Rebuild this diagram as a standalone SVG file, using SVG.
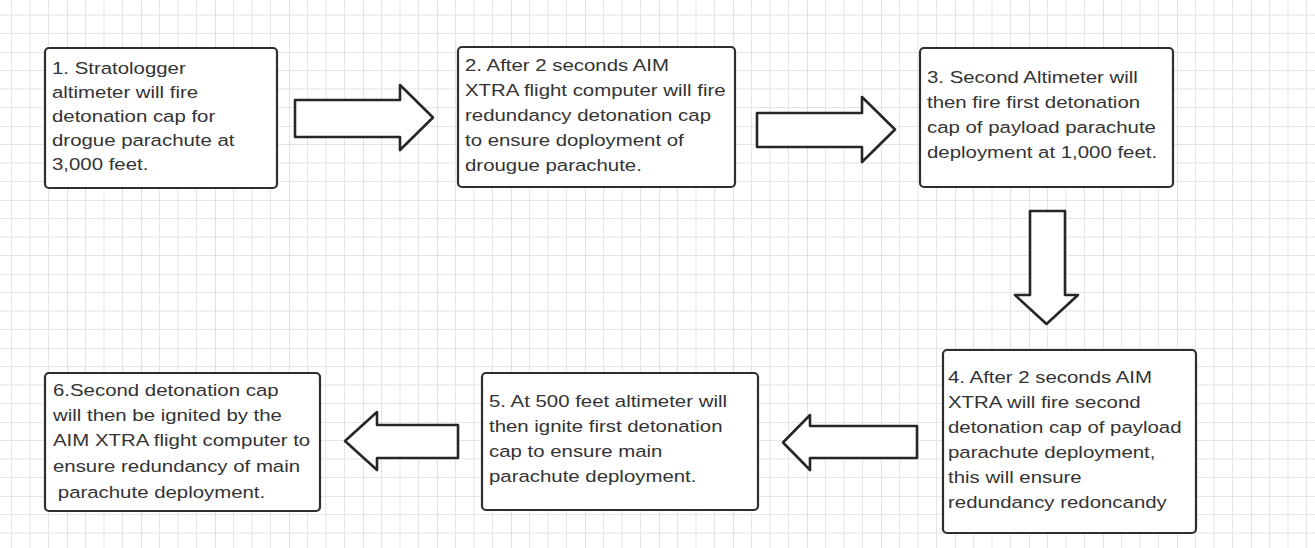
<svg xmlns="http://www.w3.org/2000/svg" width="1315" height="548" viewBox="0 0 1315 548">
  <defs>
    <pattern id="grid" patternUnits="userSpaceOnUse" x="67" y="52" width="74" height="74">
      <rect width="74" height="74" fill="#ffffff"/>
      <path d="M18.5 0V74M37 0V74M55.5 0V74M0 18.5H74M0 37H74M0 55.5H74" stroke="#e4e4e4" stroke-width="1" fill="none"/>
      <path d="M0 0V74M0 0H74" stroke="#cfcfcf" stroke-width="1.2" fill="none"/>
    </pattern>
  </defs>
  <style>
    .box { fill: #ffffff; stroke: #2e2e2e; stroke-width: 2.2; }
    .arrow { fill: #ffffff; stroke: #262626; stroke-width: 2.6; stroke-linejoin: round; }
    .lbl { font-family: "Liberation Sans", Arial, sans-serif; font-size: 17px; fill: #333333; }
  </style>
  <rect width="1315" height="548" fill="url(#grid)"/>

  <g id="connectors">
    <path class="arrow" d="M295 100H400V85L433 117.5L400 150V137H295Z"/>
    <path class="arrow" d="M757 113H862V97L895 129.5L862 162V147H757Z"/>
    <path class="arrow" d="M1030 211H1065V295H1078L1046.5 324L1015 295H1030Z"/>
    <path class="arrow" d="M917 426H810V415L783 442.5L810 470V458H917Z"/>
    <path class="arrow" d="M458 425H377V412L345 441L377 470V458H458Z"/>
  </g>

  <g id="node1">
    <rect class="box" x="45" y="48" width="232" height="140" rx="4"/>
    <text class="lbl" transform="translate(52,74) scale(1.2,1)">
      <tspan x="0" y="0">1. Stratologger</tspan>
      <tspan x="0" y="24">altimeter will fire</tspan>
      <tspan x="0" y="48">detonation cap for</tspan>
      <tspan x="0" y="72">drogue parachute at</tspan>
      <tspan x="0" y="96">3,000 feet.</tspan>
    </text>
  </g>

  <g id="node2">
    <rect class="box" x="458" y="47" width="277" height="140" rx="4"/>
    <text class="lbl" transform="translate(465,71) scale(1.2,1)">
      <tspan x="0" y="0">2. After 2 seconds AIM</tspan>
      <tspan x="0" y="25">XTRA flight computer will fire</tspan>
      <tspan x="0" y="50">redundancy detonation cap</tspan>
      <tspan x="0" y="75">to ensure doployment of</tspan>
      <tspan x="0" y="100">drougue parachute.</tspan>
    </text>
  </g>

  <g id="node3">
    <rect class="box" x="920" y="48" width="253" height="139" rx="4"/>
    <text class="lbl" transform="translate(927,83) scale(1.2,1)">
      <tspan x="0" y="0">3. Second Altimeter will</tspan>
      <tspan x="0" y="25">then fire first detonation</tspan>
      <tspan x="0" y="50">cap of payload parachute</tspan>
      <tspan x="0" y="75">deployment at 1,000 feet.</tspan>
    </text>
  </g>

  <g id="node4">
    <rect class="box" x="943" y="350" width="253" height="183" rx="4"/>
    <text class="lbl" transform="translate(948,383) scale(1.2,1)">
      <tspan x="0" y="0">4. After 2 seconds AIM</tspan>
      <tspan x="0" y="25">XTRA will fire second</tspan>
      <tspan x="0" y="50">detonation cap of payload</tspan>
      <tspan x="0" y="75">parachute deployment,</tspan>
      <tspan x="0" y="100">this will ensure</tspan>
      <tspan x="0" y="125">redundancy redoncandy</tspan>
    </text>
  </g>

  <g id="node5">
    <rect class="box" x="482" y="373" width="276" height="137" rx="4"/>
    <text class="lbl" transform="translate(489,407) scale(1.2,1)">
      <tspan x="0" y="0">5. At 500 feet altimeter will</tspan>
      <tspan x="0" y="25">then ignite first detonation</tspan>
      <tspan x="0" y="50">cap to ensure main</tspan>
      <tspan x="0" y="75">parachute deployment.</tspan>
    </text>
  </g>

  <g id="node6">
    <rect class="box" x="45" y="373" width="275" height="138" rx="4"/>
    <text class="lbl" transform="translate(53,396) scale(1.2,1)">
      <tspan x="0" y="0">6.Second detonation cap</tspan>
      <tspan x="0" y="25">will then be ignited by the</tspan>
      <tspan x="0" y="50">AIM XTRA flight computer to</tspan>
      <tspan x="0" y="76">ensure redundancy of main</tspan>
      <tspan x="4" y="102">parachute deployment.</tspan>
    </text>
  </g>
</svg>
